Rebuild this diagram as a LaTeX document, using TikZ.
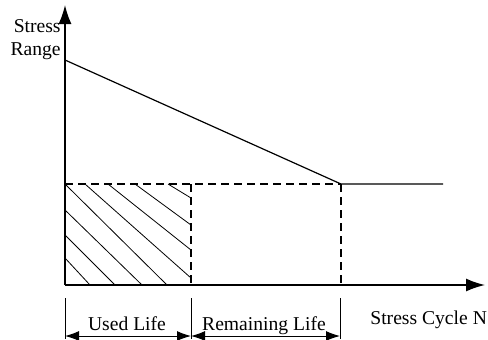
\documentclass[tikz,border=0pt]{standalone}
\usepackage{fontspec}
\setmainfont{Liberation Serif}
\usetikzlibrary{arrows.meta}

\begin{document}
\begin{tikzpicture}[x=0.5pt,y=0.5pt,font=\fontsize{9.8}{11.5}\selectfont,
    axis line/.style={line width=0.75pt,-{Latex[length=9.5pt,width=6.5pt]}},
    curve line/.style={line width=0.6pt},
    guide line/.style={line width=0.55pt,dash pattern=on 4pt off 2.5pt},
    hatch line/.style={line width=0.4pt},
    dim line/.style={line width=0.5pt,{Latex[length=7pt,width=5pt]}-{Latex[length=7pt,width=5pt]}},
    ext line/.style={line width=0.4pt}]

  \useasboundingbox (0,0) rectangle (488,339);

  \coordinate (origin) at (65,54);
  \coordinate (ytop) at (65,334);
  \coordinate (xend) at (485,54);
  \coordinate (start) at (65,279);
  \coordinate (knee) at (341,155);
  \coordinate (limit) at (443,155);
  \coordinate (used) at (191,155);
  \coordinate (usedbase) at (191,54);
  \coordinate (kneebase) at (341,54);

  \fill[white] (origin) rectangle (used);
  \foreach \a/\b/\c/\d in {168/155/191/141, 135/155/191/114, 108/155/191/89,
      85/155/191/61, 65/155/167/54, 65/129/142/54, 65/104/115/54, 65/81/90/54}
    \draw[hatch line] (\a,\b) -- (\c,\d);

  \draw[guide line] (start |- knee) -- (knee);
  \draw[guide line] (used) -- (usedbase);
  \draw[guide line] (knee) -- (kneebase);

  \draw[curve line] (start) -- (knee) -- (limit);

  \draw[axis line] (origin) -- (ytop);
  \draw[axis line] (origin) -- (xend);

  \node[anchor=north east,inner sep=0pt,align=right] (ylabel) at (61,320) {Stress\\Range};
  \node[anchor=base west,inner sep=0pt] (xlabel) at (370,15) {Stress Cycle N};

  \coordinate (e1top) at (65,41);
  \coordinate (e1bot) at (65,0);
  \coordinate (e2top) at (191,41);
  \coordinate (e2bot) at (191,0);
  \coordinate (e3top) at (340,41);
  \coordinate (e3bot) at (340,0);
  \draw[ext line] (e1top) -- (e1bot);
  \draw[ext line] (e2top) -- (e2bot);
  \draw[ext line] (e3top) -- (e3bot);

  \coordinate (d1) at (65,3);
  \coordinate (d2) at (191,3);
  \coordinate (d3) at (340,3);
  \draw[dim line] (d1) -- (d2);
  \draw[dim line] (d2) -- (d3);

  \node[anchor=base,inner sep=0pt] (usedlife) at (127,9) {Used Life};
  \node[anchor=base,inner sep=0pt] (remlife) at (264,9) {Remaining Life};

\end{tikzpicture}
\end{document}
